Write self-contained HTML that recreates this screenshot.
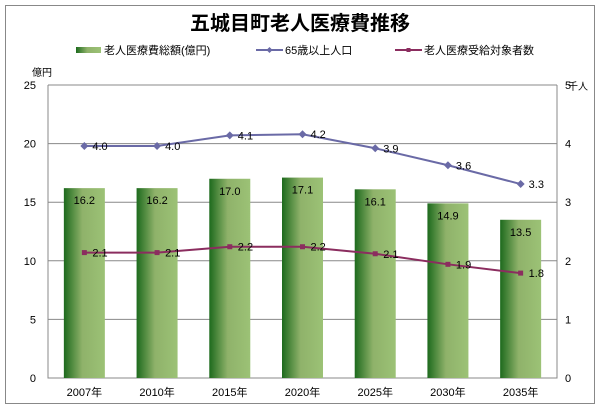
<!DOCTYPE html>
<html><head><meta charset="utf-8"><style>
body{margin:0;background:#fff}
svg{display:block;font-family:"Liberation Sans","Noto Sans CJK JP",sans-serif}
</style></head><body>
<svg id="c" width="600" height="409" viewBox="0 0 600 409">
<defs>
<linearGradient id="g" x1="0" x2="1" y1="0" y2="0">
<stop offset="0" stop-color="#1d6a1d"/><stop offset="0.45" stop-color="#8fb26a"/><stop offset="1" stop-color="#9cc276"/>
</linearGradient>
</defs>
<rect x="5.5" y="5.5" width="589" height="398" fill="#fff" stroke="#888"/>
<text x="300" y="30" text-anchor="middle" font-size="20" font-weight="bold" font-family="'Noto Sans CJK JP',sans-serif">五城目町老人医療費推移</text>
<g font-size="11">
<g><rect x="76" y="47" width="25" height="6" fill="url(#g)"/><text x="104" y="54">老人医療費総額(億円)</text></g>
<g><line x1="256" y1="50" x2="283" y2="50" stroke="#6a6aa6" stroke-width="2"/><path d="M269.5 47 L272.5 50 L269.5 53 L266.5 50Z" fill="#6a6aa6"/><text x="285" y="54">65歳以上人口</text></g>
<g><line x1="395" y1="50" x2="422" y2="50" stroke="#8b2d5f" stroke-width="2"/><rect x="406.5" y="48" width="4" height="4" fill="#8b2d5f"/><text x="424" y="54">老人医療受給対象者数</text></g>
</g>
<text x="32" y="76" font-size="10">億円</text>
<text x="568" y="90" font-size="10">千人</text>
<g id="plot"></g>
</svg>
<script>
const categories=["2007年","2010年","2015年","2020年","2025年","2030年","2035年"];
const costValues=[16.2,16.2,17.0,17.1,16.1,14.9,13.5];
const popValues=[3.96,3.96,4.14,4.16,3.92,3.63,3.31];
const recipValues=[2.14,2.14,2.24,2.24,2.12,1.94,1.79];
const leftTicks=[0,5,10,15,20,25];
const rightTicks=[0,1,2,3,4,5];
const NS="http://www.w3.org/2000/svg";
const g=document.getElementById('plot');
const L=48,R=557,T=85,B=378;
const cw=(R-L)/categories.length;
const xc=i=>L+cw*(i+0.5);
const yL=v=>B-(B-T)*v/25;
const yR=v=>B-(B-T)*v/5;
function mk(t,a,txt){const e=document.createElementNS(NS,t);for(const k in a)e.setAttribute(k,a[k]);if(txt!==undefined)e.textContent=txt;g.appendChild(e);return e;}
leftTicks.forEach(v=>{
 const l=mk('line',{x1:L,x2:R,y1:yL(v),y2:yL(v),stroke:'#888','stroke-width':1});
 
 
 const t=mk('text',{x:36,y:yL(v)+4,'text-anchor':'end','font-size':11},String(v));
 
 
});
rightTicks.forEach(v=>{
 const t=mk('text',{x:565,y:yR(v)+4,'font-size':11},String(v));
 
 
});
const ax=mk('path',{d:`M${L} ${T}V${B}H${R}V${T}`,fill:'none',stroke:'#888'});


categories.forEach((c,i)=>{
 const t=mk('text',{x:xc(i),y:396,'text-anchor':'middle','font-size':11},c);
 
 
 const bw=41;
 const b=mk('rect',{x:xc(i)-bw/2,y:yL(costValues[i]),width:bw,height:B-yL(costValues[i]),fill:'url(#g)'});
 
 
 const lb=mk('text',{x:xc(i),y:yL(costValues[i])+16,'text-anchor':'middle','font-size':11},costValues[i].toFixed(1));
 
 
});
function series(vals,color,name,marker){
 const p=mk('polyline',{points:vals.map((v,i)=>xc(i)+','+yR(v)).join(' '),fill:'none',stroke:color,'stroke-width':2});
 
 
 vals.forEach((v,i)=>{
  const x=xc(i),y=yR(v);
  const m=marker==='d'?mk('path',{d:`M${x} ${y-4}L${x+4} ${y}L${x} ${y+4}L${x-4} ${y}Z`,fill:color}):mk('rect',{x:x-2.5,y:y-2.5,width:5,height:5,fill:color});
  
  
  const t=mk('text',{x:x+8,y:y+4,'font-size':11},v.toFixed(1));
  
  
 });
}
series(popValues,'#6a6aa6','pop-65plus','d');
series(recipValues,'#8b2d5f','recipients','s');
</script>
</body></html>
